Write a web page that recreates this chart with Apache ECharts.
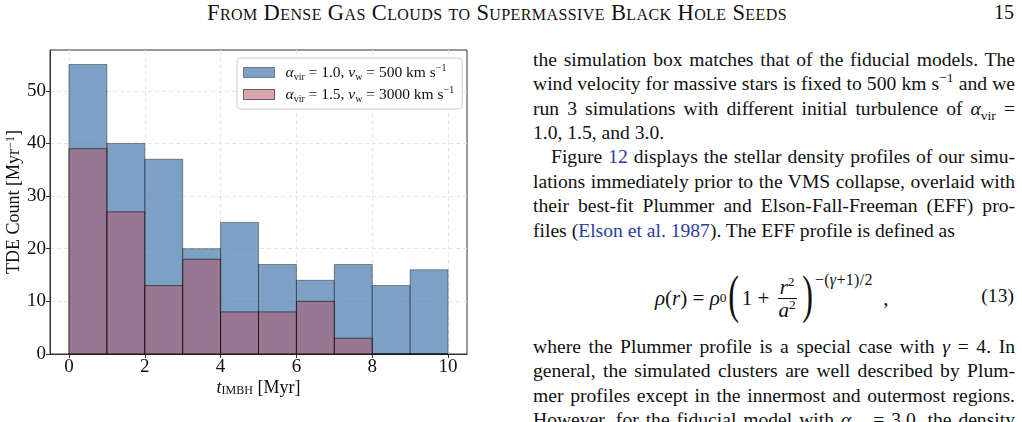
<!DOCTYPE html>
<html>
<head>
<meta charset="utf-8">
<script src="https://cdn.jsdelivr.net/npm/echarts@6/dist/echarts.min.js"></script>
<style>
  body { margin: 0; background: #fff; }
  #page { position: relative; width: 1022px; height: 422px; overflow: hidden; font-family: "Liberation Serif", "DejaVu Serif", serif; color: #111; }
  #head { position: absolute; left: 207px; top: 0px; font-size: 22.5px; letter-spacing: 0.4px; font-variant: small-caps; white-space: nowrap; }
  #pno { position: absolute; right: 8px; top: 1px; font-size: 20px; }
  #chart { position: absolute; left: 0; top: 0; width: 500px; height: 422px; }
  .col { position: absolute; left: 533px; width: 482px; font-size: 19.6px; line-height: 24.4px; }
  .col div { white-space: nowrap; text-align: justify; text-align-last: justify; }
  .col div.last { text-align: left; text-align-last: left; }
  .col div.ind { padding-left: 18px; }
  sup, sub { font-size: 13.5px; line-height: 0; }
  a { color: #2d3aa8; text-decoration: none; }
  #eq { position: absolute; left: 655px; top: 272px; height: 52px; display: flex; align-items: center; font-size: 21px; white-space: pre; }
  .paren { font-size: 52px; line-height: 50px; display: inline-block; transform: scaleX(0.62); margin: 0 -1px; position: relative; top: -3px; }
  .frac { display: inline-flex; flex-direction: column; align-items: center; margin: 0 3px; line-height: 22px; }
  .frac span:first-child { border-bottom: 1px solid #111; padding: 0 2px; }
  .exp { position: relative; top: -18px; font-size: 16px; letter-spacing: 0.3px; }
  #eqn { position: absolute; right: 8px; top: 285px; font-size: 19.6px; }
</style>
</head>
<body>
<div id="page">
  <div id="head">From Dense Gas Clouds to Supermassive Black Hole Seeds</div>
  <div id="pno">15</div>
  <div id="chart"></div>

  <div class="col" style="top:47.8px">
    <div>the simulation box matches that of the fiducial models. The</div>
    <div>wind velocity for massive stars is fixed to 500 km s<sup>−1</sup> and we</div>
    <div>run 3 simulations with different initial turbulence of <i>α</i><sub>vir</sub> =</div>
    <div class="last">1.0, 1.5, and 3.0.</div>
    <div class="ind">Figure <a>12</a> displays the stellar density profiles of our simu-</div>
    <div>lations immediately prior to the VMS collapse, overlaid with</div>
    <div>their best-fit Plummer and Elson-Fall-Freeman (EFF) pro-</div>
    <div class="last">files (<a>Elson et al. 1987</a>). The EFF profile is defined as</div>
  </div>

  <div id="eq"><i>ρ</i>(<i>r</i>) = <i>ρ</i><sub>0</sub> <span class="paren">(</span>1 + <span class="frac"><span><i>r</i><sup>2</sup></span><span><i>a</i><sup>2</sup></span></span><span class="paren">)</span><span class="exp">−(<i>γ</i>+1)/2</span>  ,</div>
  <div id="eqn">(13)</div>

  <div class="col" style="top:334.8px">
    <div>where the Plummer profile is a special case with <i>γ</i> = 4. In</div>
    <div>general, the simulated clusters are well described by Plum-</div>
    <div>mer profiles except in the innermost and outermost regions.</div>
    <div>However, for the fiducial model with <i>α</i><sub>vir</sub> = 3.0, the density</div>
  </div>
</div>

<script>
// histogram bins (Myr) and counts per bin
const binEdges = [0, 1, 2, 3, 4, 5, 6, 7, 8, 9, 10];
const countsA = [55, 40, 37, 20, 25, 17, 14, 17, 13, 16]; // alpha_vir = 1.0, v_w = 500
const countsB = [39, 27, 13, 18, 8, 8, 10, 3, 0, 0];      // alpha_vir = 1.5, v_w = 3000
const xTicks = [0, 2, 4, 6, 8, 10];
const yTicks = [0, 10, 20, 30, 40, 50];

const nameA = 'a';
const nameB = 'b';
const fillA = 'rgba(68,121,173,0.7)';
const fillB = 'rgba(179,77,97,0.5)';
const edgeA = 'rgba(0,0,0,0.4)';
const edgeB = 'rgba(0,0,0,0.55)';

function toBins(counts) {
  return counts.map((c, i) => [binEdges[i], binEdges[i + 1], c]);
}

function barRender(fill, edge) {
  return function (params, api) {
    const p0 = api.coord([api.value(0), api.value(2)]);
    const p1 = api.coord([api.value(1), 0]);
    return {
      type: 'rect',
      shape: { x: p0[0], y: p0[1], width: p1[0] - p0[0], height: p1[1] - p0[1] },
      style: { fill: fill, stroke: edge, lineWidth: 1 }
    };
  };
}

const font = 'Liberation Serif';
function richSet(size) {
  return {
    i: { fontFamily: font, fontStyle: 'italic', fontSize: size, color: '#111' },
    n: { fontFamily: font, fontSize: size, color: '#111' },
    sub: { fontFamily: font, fontSize: Math.round(size * 0.66), color: '#111', verticalAlign: 'bottom', lineHeight: 12 },
    sup: { fontFamily: font, fontSize: Math.round(size * 0.66), color: '#111', verticalAlign: 'top', lineHeight: 12 },
    g: { width: 6 }
  };
}

const chart = echarts.init(document.getElementById('chart'));
chart.setOption({
  animation: false,
  grid: {
    left: 50, top: 50, width: 417, height: 304,
    containLabel: false, outerBoundsMode: 'none',
    show: true, borderColor: '#333', borderWidth: 1
  },
  legend: {
    left: 237, top: 58, orient: 'vertical', selectedMode: false,
    itemWidth: 31, itemHeight: 10, itemGap: 3,
    padding: [5, 8, 5, 6],
    backgroundColor: 'rgba(255,255,255,0.85)', borderColor: '#ccc', borderWidth: 1, borderRadius: 3,
    icon: 'rect',
    data: [
      { name: nameA, itemStyle: { color: fillA, borderColor: edgeA, borderWidth: 1 } },
      { name: nameB, itemStyle: { color: fillB, borderColor: edgeB, borderWidth: 1 } }
    ],
    formatter: function (name) {
      if (name === nameA) return '{g|}{i|α}{sub|vir}{n| = 1.0, }{i|v}{sub|w}{n| = 500 km s}{sup|−1}';
      return '{g|}{i|α}{sub|vir}{n| = 1.5, }{i|v}{sub|w}{n| = 3000 km s}{sup|−1}';
    },
    textStyle: { fontFamily: font, fontSize: 15.5, lineHeight: 19, rich: richSet(15.5) }
  },
  xAxis: {
    type: 'value', min: -0.5, max: 10.5,
    name: '{i|t}{sub|IMBH}{n| [Myr]}', nameLocation: 'middle', nameGap: 25, nameMoveOverlap: false,
    nameTextStyle: { rich: richSet(18) },
    axisLine: { show: true, onZero: false, lineStyle: { color: '#333' } },
    axisTick: { show: true, length: 4, lineStyle: { color: '#333' }, customValues: xTicks },
    axisLabel: { fontFamily: font, fontSize: 19, color: '#111', margin: 4, customValues: xTicks },
    splitLine: { show: true, lineStyle: { color: '#e6e6e6', type: [4, 3] } }
  },
  yAxis: {
    type: 'value', min: 0, max: 57.75,
    name: '{n|TDE Count [Myr}{sup|−1}{n|]}', nameLocation: 'middle', nameRotate: 90, nameGap: 27, nameMoveOverlap: false,
    nameTextStyle: { rich: richSet(18) },
    axisLine: { show: true, onZero: false, lineStyle: { color: '#333' } },
    axisTick: { show: true, length: 4, lineStyle: { color: '#333' }, customValues: yTicks },
    axisLabel: { fontFamily: font, fontSize: 19, color: '#111', margin: 4, customValues: yTicks },
    splitLine: { show: true, lineStyle: { color: '#e6e6e6', type: [4, 3] } }
  },
  series: [
    {
      name: nameA, type: 'custom', renderItem: barRender(fillA, edgeA),
      itemStyle: { color: fillA }, encode: { x: [0, 1], y: 2 }, data: toBins(countsA)
    },
    {
      name: nameB, type: 'custom', renderItem: barRender(fillB, edgeB),
      itemStyle: { color: fillB }, encode: { x: [0, 1], y: 2 }, data: toBins(countsB)
    }
  ]
});
</script>
</body>
</html>
